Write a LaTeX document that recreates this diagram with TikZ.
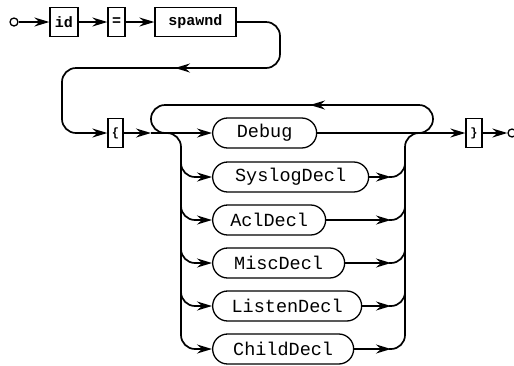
\documentclass[tikz,border=0pt]{standalone}
\usepackage{fontspec}
\setmonofont{Liberation Mono}
\usetikzlibrary{arrows.meta}
\tikzset{
  term/.style={draw, line width=1.3pt, minimum height=29pt, inner sep=0pt,
    font=\ttfamily\bfseries\fontsize{15}{15}\selectfont},
  nterm/.style={draw, line width=1.3pt, rounded corners=15pt, minimum height=30pt,
    inner sep=0pt, anchor=west, font=\ttfamily\fontsize{18.5}{18.5}\selectfont},
  endpt/.style={draw, circle, line width=1.3pt, minimum size=8pt, inner sep=0pt},
  rail/.style={line width=1.7pt},
  arr/.style={-{Stealth[length=15pt,width=9pt,inset=5pt]}},
  curvy/.style={rounded corners=14pt},
}
\begin{document}
\begin{tikzpicture}[x=1pt,y=-1pt]
\useasboundingbox (0,0) rectangle (514,365);
% top row
\node[endpt] (s) at (14,22) {};
\node[term, minimum width=28pt] (id) at (64,22) {id};
\node[term, minimum width=17pt] (eq) at (116.5,22) {=};
\node[term, minimum width=81pt] (sp) at (195.5,22) {spawnd};
% second row
\node[term, minimum width=15pt, font=\ttfamily\bfseries\fontsize{12}{12}\selectfont] (lb) at (115.5,133) {\{};
\node[term, minimum width=16pt, font=\ttfamily\bfseries\fontsize{12}{12}\selectfont] (rb) at (474,133) {\}};
\node[endpt] (e) at (512,133) {};
% alternatives
\node[nterm, minimum width=104pt] (debug)  at (212,133) {Debug};
\node[nterm, minimum width=156pt] (syslog) at (212,177) {SyslogDecl};
\node[nterm, minimum width=113pt] (acl)    at (212,220) {AclDecl};
\node[nterm, minimum width=132pt] (misc)   at (212,263) {MiscDecl};
\node[nterm, minimum width=149pt] (listen) at (212,306) {ListenDecl};
\node[nterm, minimum width=141pt] (child)  at (212,349) {ChildDecl};
% coordinates
\coordinate (r1) at (280,22);
\coordinate (r2) at (280,68);
\coordinate (r3) at (62,68);
\coordinate (r4) at (62,133);
\coordinate (ra) at (190,68);
\coordinate (rt) at (175,68);
\coordinate (j1) at (151,133);
\coordinate (j2) at (433,133);
\coordinate (la) at (181,133);
\coordinate (lb2) at (181,349);
\coordinate (lp) at (151,105);
\coordinate (rp) at (433,105);
\coordinate (ta) at (325,105);
\coordinate (tt) at (310,105);
\coordinate (rv) at (405,349);
\coordinate (rv0) at (405,133);
% top row connectors
\draw[rail,arr] (s) -- (id);
\draw[rail,arr] (id) -- (eq);
\draw[rail,arr] (eq) -- (sp);
\draw[rail,curvy,arr] (sp.east) -- (r1) -- (r2) -- (r3) -- (r4) -- (lb.west);
\draw[rail,arr] (ra) -- (rt);
% main line
\draw[rail,arr] (lb.east) -- (j1);
\draw[rail,arr] (j1) -- (debug.west);
\draw[rail] (debug.east) -- (j2);
\draw[rail,arr] (j2) -- (rb.west);
\draw[rail,arr] (rb.east) -- (e.west);
% loop back
\draw[rail,curvy] (166,133) -- (j1) -- (lp) -- (rp) -- (j2) -- (418,133);
\draw[rail,arr] (ta) -- (tt);
% left branch
\draw[rail,curvy,arr] (165,133) -- (la) -- (lb2) -- (child.west);
\foreach \n/\y in {syslog/177,acl/220,misc/263,listen/306}{
  \draw[rail,curvy,arr] (181,\y-20) -- (181,\y) -- (\n.west);
}
% right merge
\foreach \n/\y in {syslog/177,acl/220,misc/263,listen/306,child/349}{
  \draw[rail,arr] (\n.east) -- (391,\y);
}
\foreach \y in {177,220,263,306}{
  \draw[rail,curvy] (389,\y) -- (405,\y) -- (405,\y-20);
}
\draw[rail,curvy] (389,349) -- (rv) -- (rv0) -- (425,133);
\end{tikzpicture}
\end{document}
